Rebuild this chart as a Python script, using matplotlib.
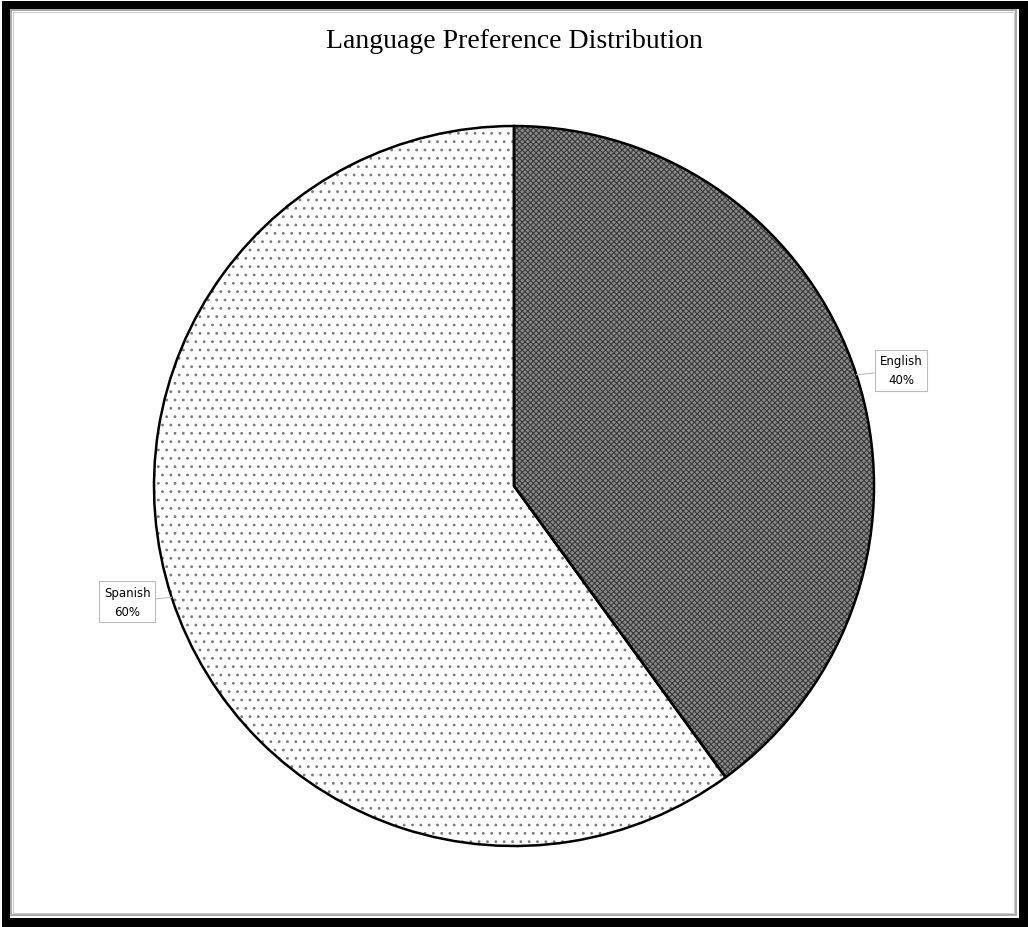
import numpy as np
import matplotlib
matplotlib.use("Agg")
import matplotlib.pyplot as plt
from matplotlib.patches import Rectangle

# data
languages = ["English", "Spanish"]
shares = [40, 60]
title = "Language Preference Distribution"

plt.rcParams["hatch.linewidth"] = 0.8

W, H = 1028, 928
fig = plt.figure(figsize=(W / 100, H / 100), dpi=100)

# frame: thick black border with a thin grey inner line
def px_rect(x0, y0, x1, y1, **kw):
    # pixel coords measured from the top-left corner
    r = Rectangle((x0 / W, 1 - y1 / H), (x1 - x0) / W, (y1 - y0) / H,
                  transform=fig.transFigure, **kw)
    fig.add_artist(r)

px_rect(2, 2, 1028, 928, facecolor="black", edgecolor="none", zorder=-3)
px_rect(10, 10, 1019, 919, facecolor="white", edgecolor="none", zorder=-2)
px_rect(11, 11, 1016, 916, facecolor="none", edgecolor="#999999",
        linewidth=1.2, zorder=-1)
px_rect(13, 13, 1014, 914, facecolor="none", edgecolor="#cccccc",
        linewidth=0.8, zorder=-1)

fig.text(514 / W, 1 - 41 / H, title, ha="center", va="center",
         fontsize=20, family="Liberation Serif")

# pie axes placed so the radius is ~360 px around (514, 487)
ax = fig.add_axes([(514 - 360) / W, (H - 487 - 360) / H, 720 / W, 720 / H])
ax.set_zorder(5)
ax.set_facecolor("none")

# fill + hatch pass (hatch colour follows the edge colour, edges not drawn)
fills, _ = ax.pie(shares, startangle=90, counterclock=False,
                  colors=["#8a8a8a", "white"],
                  wedgeprops=dict(linewidth=0))
fills[0].set_edgecolor("#3a3a3a")
fills[0].set_hatch("xxxxxx")
fills[1].set_edgecolor("#7a7a7a")
fills[1].set_hatch("..")
for f in fills:
    f.set_linewidth(0)

# outline pass
wedges, _ = ax.pie(shares, startangle=90, counterclock=False,
                   colors=["none", "none"],
                   wedgeprops=dict(edgecolor="black", linewidth=1.8))

for w, name, val in zip(wedges, languages, shares):
    mid = np.deg2rad((w.theta1 + w.theta2) / 2)
    tx, ty = 1.13 * np.cos(mid), 1.04 * np.sin(mid)
    ex, ey = np.cos(mid), np.sin(mid)
    ax.annotate("%s\n%d%%" % (name, val), xy=(ex, ey), xytext=(tx, ty),
                ha="center", va="center", fontsize=8.5, family="DejaVu Sans",
                linespacing=1.6,
                bbox=dict(boxstyle="square,pad=0.4", facecolor="white",
                          edgecolor="#bbbbbb", linewidth=0.8),
                arrowprops=dict(arrowstyle="-", color="#bbbbbb",
                                linewidth=0.8, shrinkA=0, shrinkB=0))

ax.set_xlim(-1, 1)
ax.set_ylim(-1, 1)
ax.set_aspect("equal")
ax.axis("off")

fig.savefig("out.png", dpi=100)
